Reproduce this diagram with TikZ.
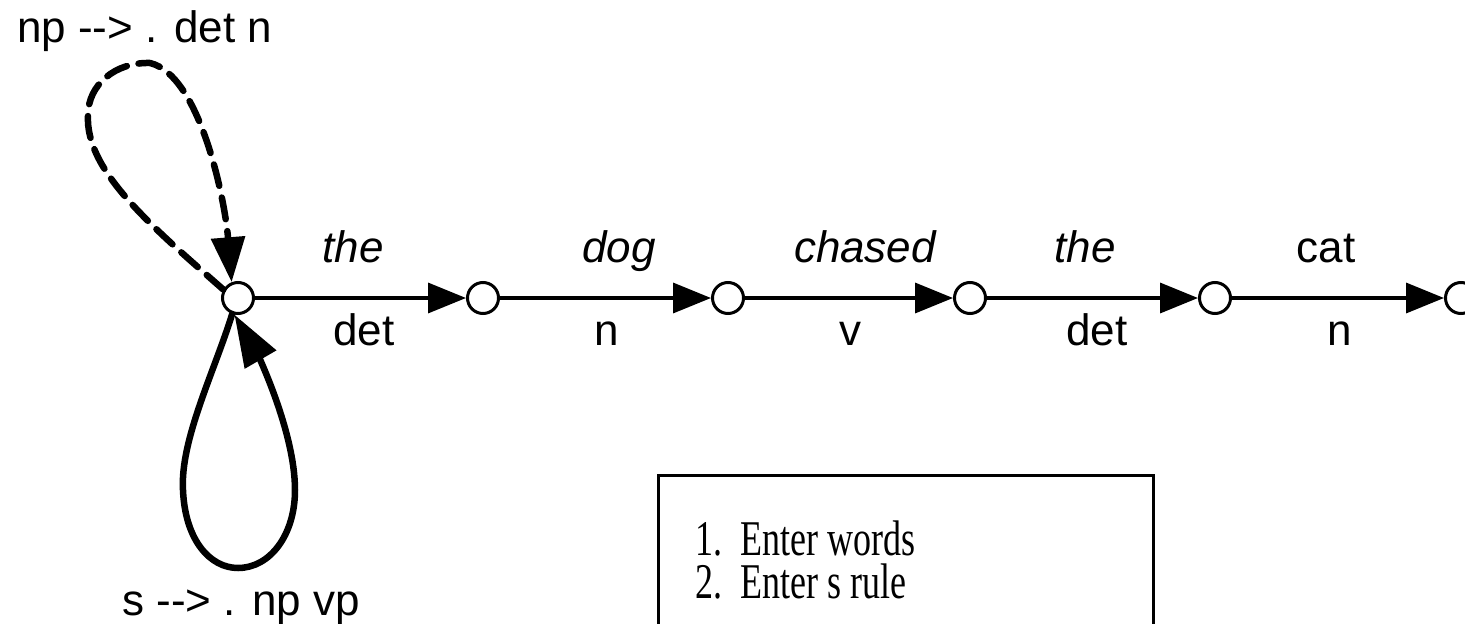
\documentclass[tikz,border=0pt]{standalone}
\usepackage{fontspec}
\setmainfont{Liberation Sans}
\newfontfamily\boxfont{Liberation Serif}
\usetikzlibrary{arrows.meta}
\begin{document}
\begin{tikzpicture}[x=1pt,y=-1pt,
  state/.style={circle,draw,line width=3pt,minimum size=31pt,inner sep=0pt,fill=white},
  arc/.style={line width=3.5pt,-{Triangle[length=38pt,width=30pt]}},
  word/.style={anchor=base,font=\fontsize{44}{50}\selectfont\itshape},
  cat/.style={anchor=base,font=\fontsize{44}{50}\selectfont},
  rule/.style={anchor=base west,inner sep=0pt,font=\fontsize{44}{50}\selectfont},
  loopline/.style={line width=6.5pt,line cap=round},
  steps/.style={anchor=base west,inner sep=0pt,align=left,
    font=\boxfont\fontsize{50}{43}\selectfont}]
\clip (0,0) rectangle (1465,624);
\fill[white] (0,0) rectangle (1465,624);

% chart vertices
\node[state] (n1) at (238,298) {};
\node[state] (n2) at (483,298) {};
\node[state] (n3) at (728,298) {};
\node[state] (n4) at (970,298) {};
\node[state] (n5) at (1215,298) {};
\node[state] (n6) at (1461,298) {};

% word edges
\draw[arc] (n1) -- (n2);
\draw[arc] (n2) -- (n3);
\draw[arc] (n3) -- (n4);
\draw[arc] (n4) -- (n5);
\draw[arc] (n5) -- (n6);

% words above, categories below
\node[word] (w1) at (353,262) {the};
\node[word] (w2) at (619,262) {dog};
\node[word] (w3) at (865,262) {chased};
\node[word] (w4) at (1085,262) {the};
\node[cat]  (w5) at (1326,262) {cat};
\node[cat] (c1) at (364,345) {det};
\node[cat] (c2) at (607,345) {n};
\node[cat] (c3) at (850,345) {v};
\node[cat] (c4) at (1097,345) {det};
\node[cat] (c5) at (1340,345) {n};

% dotted rules looping on the first vertex
\draw[loopline,dash pattern=on 22pt off 12pt,-{Triangle[length=45pt,width=33pt]}]
  (n1.150) .. controls (150,225) and (85,170) .. (88,115)
  .. controls (88,85) and (115,62) .. (150,63)
  .. controls (200,75) and (225,200) .. (n1.112);
\draw[loopline,-{Triangle[length=52pt,width=35pt]}]
  (n1.250) .. controls (215,370) and (180,440) .. (183,490)
  .. controls (185,540) and (210,568) .. (238,568)
  .. controls (270,568) and (295,535) .. (295,490)
  .. controls (295,430) and (255,350) .. (n1.258);

\node[rule] (r1) at (17,42) {np -{}-> . det n};
\node[rule] (r2) at (122,615) {s -{}-> . np vp};

% steps box
\draw[line width=3pt] (658,660) |- (1153,475) -- (1153,660);
\node[steps] (list) at (695,598)
  {\scalebox{0.72}[1]{1.}\hspace{18pt}\scalebox{0.72}[1]{Enter words}\\
   \scalebox{0.72}[1]{2.}\hspace{18pt}\scalebox{0.72}[1]{Enter s rule}};
\end{tikzpicture}
\end{document}
